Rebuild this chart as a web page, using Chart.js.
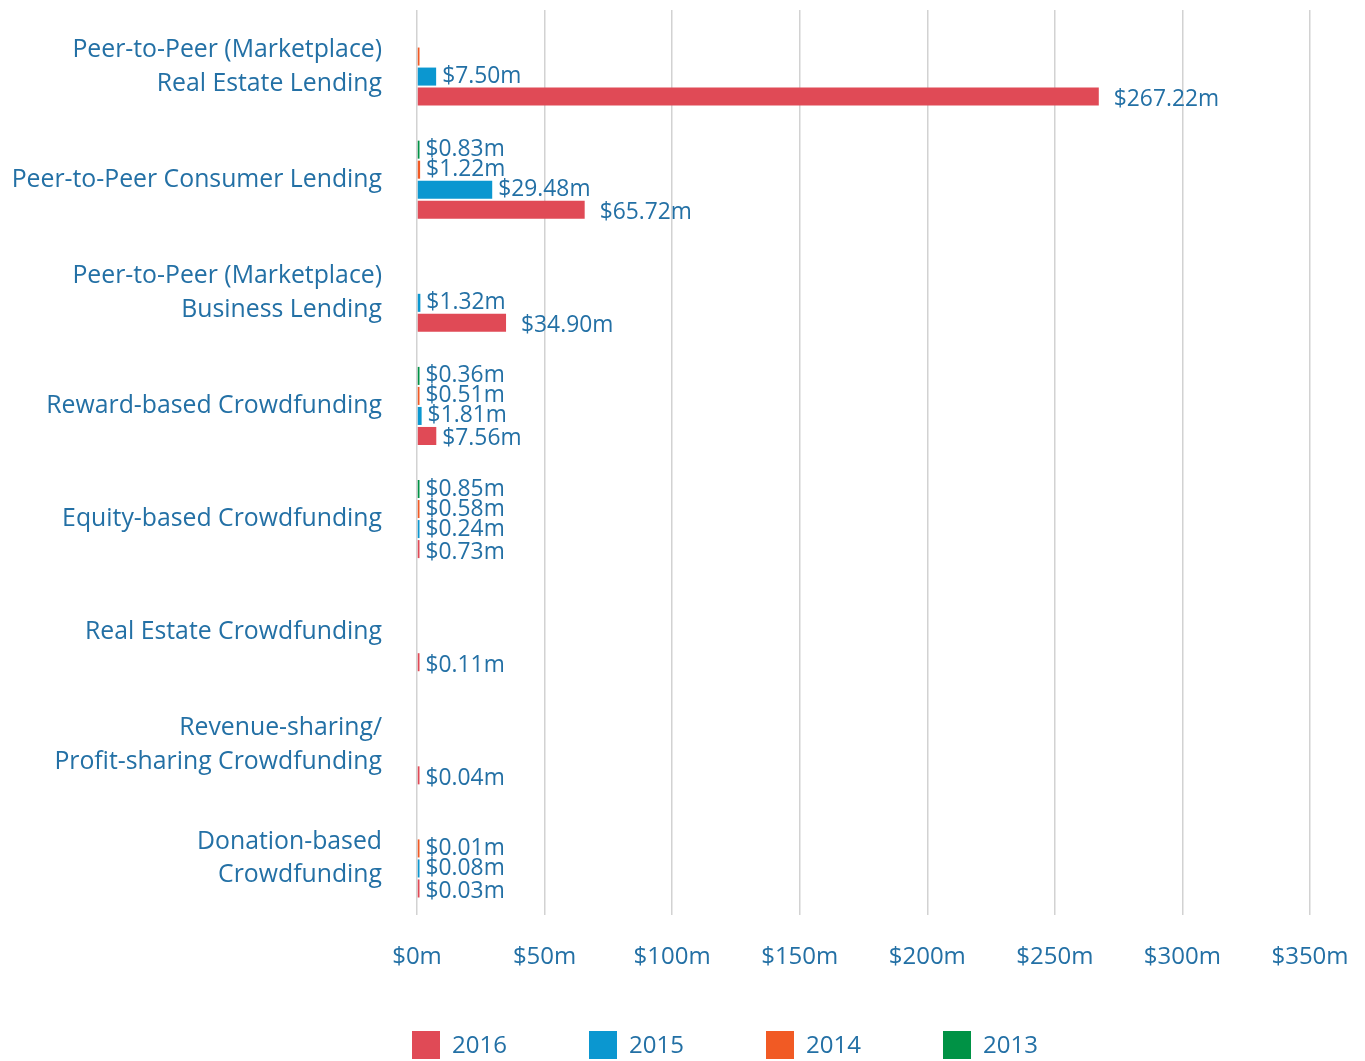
<!DOCTYPE html>
<html>
<head>
<meta charset="utf-8">
<script src="https://cdn.jsdelivr.net/npm/chart.js@4"></script>
<style>
  html, body { margin: 0; padding: 0; background: #fff; }
  #wrap { width: 1365px; height: 1061px; }
</style>
</head>
<body>
<div id="wrap"><canvas id="chart" width="1365" height="1061"></canvas></div>
<script>
const categories = [
  ['Peer-to-Peer (Marketplace)', 'Real Estate Lending'],
  'Peer-to-Peer Consumer Lending',
  ['Peer-to-Peer (Marketplace)', 'Business Lending'],
  'Reward-based Crowdfunding',
  'Equity-based Crowdfunding',
  'Real Estate Crowdfunding',
  ['Revenue-sharing/', 'Profit-sharing Crowdfunding'],
  ['Donation-based', 'Crowdfunding'],
];

// volumes in $m, per year
const values2013 = [null, 0.83, null, 0.36, 0.85, null, null, null];
const values2014 = [0.4, 1.22, null, 0.51, 0.58, null, null, 0.01];
const values2015 = [7.5, 29.48, 1.32, 1.81, 0.24, null, null, 0.08];
const values2016 = [267.22, 65.72, 34.9, 7.56, 0.73, 0.11, 0.04, 0.03];

// marks too thin to carry a value label
const unlabelled = ['2014:0'];

const xTicks = [0, 50, 100, 150, 200, 250, 300, 350];

const textColor = '#2370a5';
const font = 'Open Sans';

const series = [
  { label: '2013', data: values2013, color: '#009245' },
  { label: '2014', data: values2014, color: '#f15a24' },
  { label: '2015', data: values2015, color: '#0b97d0' },
  { label: '2016', data: values2016, color: '#e04a56' },
];

const valueLabels = {
  id: 'valueLabels',
  afterDatasetsDraw(chart) {
    const { ctx, chartArea } = chart;
    ctx.save();
    ctx.font = `22.8px "${font}"`;
    ctx.fillStyle = textColor;
    ctx.textBaseline = 'middle';
    ctx.textAlign = 'left';
    chart.data.datasets.forEach((ds, di) => {
      const meta = chart.getDatasetMeta(di);
      const isLast = ds.label === '2016';
      meta.data.forEach((bar, i) => {
        const v = ds.data[i];
        if (v == null || unlabelled.includes(`${ds.label}:${i}`)) return;
        const x = Math.max(bar.x, chartArea.left + 2) + (isLast && v > 20 ? 15 : 6);
        const y = bar.y + (isLast ? 3 : 0);
        ctx.fillText(`$${v.toFixed(2)}m`, x, y);
      });
    });
    ctx.restore();
  },
};

const bottomLegend = {
  id: 'bottomLegend',
  afterDraw(chart) {
    const { ctx, chartArea } = chart;
    const items = [...chart.data.datasets].reverse();
    const y = 1045;
    ctx.save();
    ctx.font = `24px "${font}"`;
    ctx.textBaseline = 'middle';
    items.forEach((ds, i) => {
      const x = chartArea.left - 5 + i * 177;
      ctx.fillStyle = ds.backgroundColor;
      ctx.fillRect(x, y - 14, 28, 28);
      ctx.fillStyle = textColor;
      ctx.fillText(ds.label, x + 40, y + 1);
    });
    ctx.restore();
  },
};

new Chart(document.getElementById('chart'), {
  type: 'bar',
  data: {
    labels: categories,
    datasets: series.map((s) => ({
      label: s.label,
      data: s.data,
      backgroundColor: s.color,
      borderWidth: 0,
      minBarLength: 2.5,
      categoryPercentage: 0.708,
      barPercentage: 0.9,
    })),
  },
  options: {
    indexAxis: 'y',
    responsive: false,
    animation: false,
    layout: { padding: { top: 10, right: 55, bottom: 0, left: 0 } },
    plugins: {
      legend: { display: false },
      tooltip: { enabled: false },
    },
    scales: {
      x: {
        min: 0,
        max: 350,
        afterBuildTicks: (scale) => {
          scale.ticks = xTicks.map((value) => ({ value }));
        },
        afterFit: (scale) => {
          scale.height = 146;
          scale.paddingLeft = 0;
          scale.paddingRight = 0;
        },
        grid: { color: '#d2d2d2', lineWidth: 1.5, drawTicks: false },
        border: { display: false },
        ticks: {
          padding: 28,
          color: textColor,
          font: { family: font, size: 24 },
          callback: (value) => `$${value}m`,
        },
      },
      y: {
        afterFit: (scale) => {
          scale.width = 417;
          scale.paddingTop = 0;
          scale.paddingBottom = 0;
        },
        grid: { display: false },
        border: { display: false },
        ticks: {
          padding: 27,
          color: textColor,
          font: { family: font, size: 24.8, lineHeight: 1.37 },
        },
      },
    },
  },
  plugins: [valueLabels, bottomLegend],
});
</script>
</body>
</html>
